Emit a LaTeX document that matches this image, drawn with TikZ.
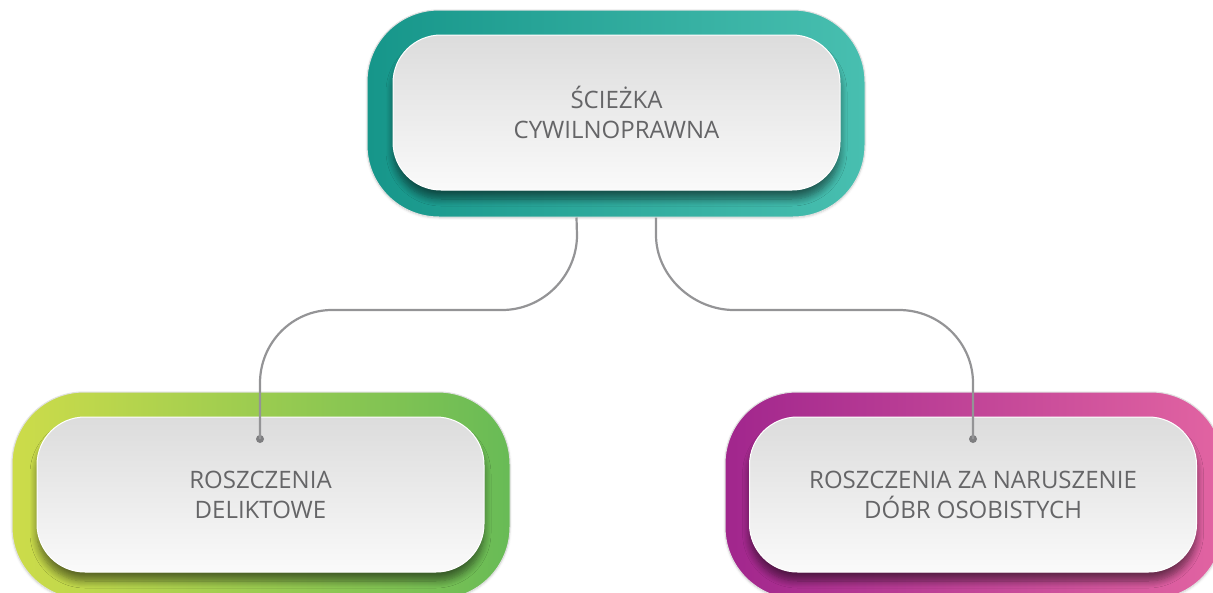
\documentclass[tikz,border=0pt]{standalone}
\usepackage{fontspec}
\setmainfont{Open Sans}
\usetikzlibrary{shadows.blur}
\definecolor{tealL}{HTML}{16968A}
\definecolor{tealR}{HTML}{48BFB0}
\definecolor{greenL}{HTML}{CDDC4A}
\definecolor{greenR}{HTML}{68BB56}
\definecolor{purpL}{HTML}{A1268D}
\definecolor{purpR}{HTML}{E264A2}
\definecolor{txt}{HTML}{656567}
\definecolor{connc}{HTML}{949496}
\definecolor{cardtop}{HTML}{DCDCDC}
\definecolor{cardbot}{HTML}{FAFAFA}
\tikzset{
  ring/.style={rectangle, rounded corners=72pt, minimum width=498pt, minimum height=207pt,
    draw=black!12, line width=1pt, inner sep=0pt,
    blur shadow={shadow xshift=0pt, shadow yshift=-1pt, shadow blur steps=6, shadow opacity=15}},
  card/.style={rectangle, rounded corners=48pt, minimum width=447pt, minimum height=155pt,
    top color=cardtop, bottom color=cardbot, draw=white, line width=1pt,
    align=center, font=\fontsize{24}{30}\selectfont, text=txt,
    blur shadow={shadow xshift=0pt, shadow yshift=-9pt, shadow blur radius=7pt, shadow blur steps=8, shadow opacity=50}},
  link/.style={draw=connc, line width=2.2pt},
  enddot/.style={circle, fill=connc!85!black, inner sep=0pt, minimum size=8pt}
}
\begin{document}
\begin{tikzpicture}[x=1pt,y=-1pt]
\useasboundingbox (0,0) rectangle (1213,592);
\clip (0,0) rectangle (1213,592);
\node[ring, left color=tealL, right color=tealR] (topring) at (616,113.5) {};
\node[card] (topcard) at (616.5,112.5) {ŚCIEŻKA\\CYWILNOPRAWNA};
\node[ring, left color=greenL, right color=greenR] (leftring) at (261,495.5) {};
\node[card] (leftcard) at (260.5,494.5) {ROSZCZENIA\\DELIKTOWE};
\node[ring, left color=purpL, right color=purpR] (rightring) at (974,495.5) {};
\node[card] (rightcard) at (973,494.5) {ROSZCZENIA ZA NARUSZENIE\\DÓBR OSOBISTYCH};
\node[enddot] (ldot) at (260,439) {};
\node[enddot] (rdot) at (973,439) {};
\coordinate (ls) at ([xshift=-39.5pt]topring.south);
\coordinate (rs) at ([xshift=40pt]topring.south);
\draw[link] (ls) -- (577,235) .. controls (577,276) and (543,310) .. (502,310) -- (332,310)
  .. controls (292,310) and (260,343) .. (260,383) -- (ldot.center);
\draw[link] (rs) -- (656,235) .. controls (656,276) and (693,310) .. (734,310) -- (899,310)
  .. controls (940,310) and (973,343) .. (973,383) -- (rdot.center);
\end{tikzpicture}
\end{document}
